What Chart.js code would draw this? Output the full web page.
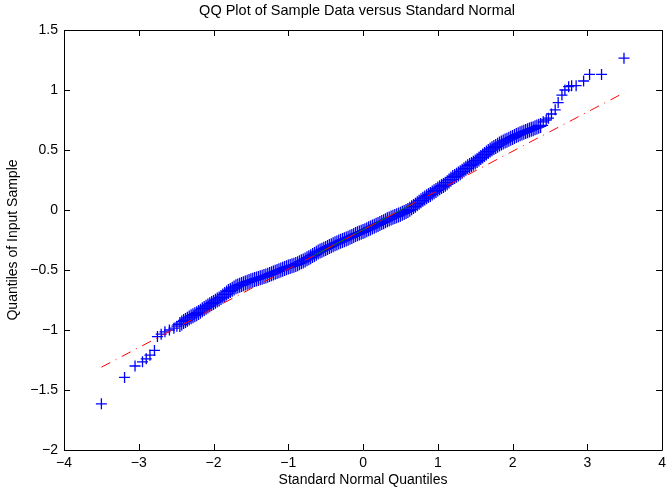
<!DOCTYPE html>
<html>
<head>
<meta charset="utf-8">
<script src="https://cdn.jsdelivr.net/npm/chart.js@4.4.1/dist/chart.umd.min.js"></script>
<style>
  html, body { margin: 0; padding: 0; background: #fff; }
  #wrap { width: 671px; height: 491px; }
</style>
</head>
<body>
<div id="wrap"><canvas id="qq"></canvas></div>
<script>
// Sample quantiles (x = standard normal quantile, y = sample quantile)
// lower tail, dense middle band, upper tail
const sampleX = [
  -3.50, -3.19, -3.05, -2.95, -2.90, -2.85, -2.79, -2.75, -2.70, -2.65, -2.59, -2.53, -2.49,
  -2.450, -2.425, -2.400, -2.375, -2.350, -2.325, -2.300, -2.275, -2.250, -2.225,
  -2.200, -2.175, -2.150, -2.125, -2.100, -2.075, -2.050, -2.025, -2.000, -1.975,
  -1.950, -1.925, -1.900, -1.875, -1.850, -1.825, -1.800, -1.775, -1.750, -1.725,
  -1.700, -1.675, -1.650, -1.625, -1.600, -1.575, -1.550, -1.525, -1.500, -1.475,
  -1.450, -1.425, -1.400, -1.375, -1.350, -1.325, -1.300, -1.275, -1.250, -1.225,
  -1.200, -1.175, -1.150, -1.125, -1.100, -1.075, -1.050, -1.025, -1.000, -0.975,
  -0.950, -0.925, -0.900, -0.875, -0.850, -0.825, -0.800, -0.775, -0.750, -0.725,
  -0.700, -0.675, -0.650, -0.625, -0.600, -0.575, -0.550, -0.525, -0.500, -0.475,
  -0.450, -0.425, -0.400, -0.375, -0.350, -0.325, -0.300, -0.275, -0.250, -0.225,
  -0.200, -0.175, -0.150, -0.125, -0.100, -0.075, -0.050, -0.025, 0.000, 0.025,
  0.050, 0.075, 0.100, 0.125, 0.150, 0.175, 0.200, 0.225, 0.250, 0.275,
  0.300, 0.325, 0.350, 0.375, 0.400, 0.425, 0.450, 0.475, 0.500, 0.525,
  0.550, 0.575, 0.600, 0.625, 0.650, 0.675, 0.700, 0.725, 0.750, 0.775,
  0.800, 0.825, 0.850, 0.875, 0.900, 0.925, 0.950, 0.975, 1.000, 1.025,
  1.050, 1.075, 1.100, 1.125, 1.150, 1.175, 1.200, 1.225, 1.250, 1.275,
  1.300, 1.325, 1.350, 1.375, 1.400, 1.425, 1.450, 1.475, 1.500, 1.525,
  1.550, 1.575, 1.600, 1.625, 1.650, 1.675, 1.700, 1.725, 1.750, 1.775,
  1.800, 1.825, 1.850, 1.875, 1.900, 1.925, 1.950, 1.975, 2.000, 2.025,
  2.050, 2.075, 2.100, 2.125, 2.150, 2.175, 2.200, 2.225, 2.250, 2.275,
  2.300, 2.325, 2.350, 2.375,
  2.41, 2.45, 2.48, 2.52, 2.57, 2.61, 2.66, 2.70, 2.75, 2.79, 2.85, 2.95, 3.03, 3.19, 3.49
];
const sampleY = [
  -1.615, -1.395, -1.300, -1.265, -1.240, -1.210, -1.170, -1.055, -1.035, -1.015, -1.000, -0.985, -0.968,
  -0.955, -0.942, -0.930, -0.921, -0.910, -0.899, -0.890, -0.881, -0.872, -0.864,
  -0.855, -0.843, -0.832, -0.821, -0.810, -0.800, -0.790, -0.780, -0.770, -0.760,
  -0.750, -0.741, -0.730, -0.717, -0.705, -0.692, -0.680, -0.670, -0.660, -0.650,
  -0.640, -0.633, -0.627, -0.621, -0.615, -0.608, -0.602, -0.596, -0.590, -0.585,
  -0.580, -0.575, -0.570, -0.565, -0.560, -0.555, -0.550, -0.543, -0.537, -0.531,
  -0.525, -0.518, -0.512, -0.506, -0.500, -0.493, -0.487, -0.481, -0.475, -0.470,
  -0.465, -0.460, -0.455, -0.447, -0.440, -0.432, -0.425, -0.416, -0.407, -0.398,
  -0.390, -0.380, -0.370, -0.360, -0.350, -0.342, -0.335, -0.327, -0.320, -0.312,
  -0.305, -0.297, -0.290, -0.282, -0.275, -0.267, -0.260, -0.254, -0.248, -0.241,
  -0.235, -0.227, -0.220, -0.212, -0.205, -0.198, -0.192, -0.186, -0.180, -0.172,
  -0.165, -0.157, -0.150, -0.142, -0.135, -0.127, -0.120, -0.112, -0.105, -0.097,
  -0.090, -0.082, -0.075, -0.067, -0.060, -0.054, -0.048, -0.041, -0.035, -0.027,
  -0.020, -0.012, -0.005, 0.006, 0.018, 0.029, 0.040, 0.052, 0.065, 0.077,
  0.090, 0.100, 0.110, 0.120, 0.130, 0.141, 0.152, 0.163, 0.175, 0.185,
  0.195, 0.205, 0.215, 0.228, 0.242, 0.256, 0.270, 0.280, 0.290, 0.300,
  0.310, 0.322, 0.335, 0.347, 0.360, 0.370, 0.380, 0.390, 0.400, 0.412,
  0.425, 0.437, 0.450, 0.462, 0.475, 0.487, 0.500, 0.510, 0.520, 0.530,
  0.540, 0.549, 0.558, 0.566, 0.575, 0.582, 0.590, 0.597, 0.605, 0.612,
  0.620, 0.627, 0.635, 0.641, 0.648, 0.654, 0.660, 0.666, 0.672, 0.678,
  0.685, 0.691, 0.698, 0.705,
  0.735, 0.750, 0.765, 0.800, 0.835, 0.895, 0.958, 1.000, 1.028, 1.036, 1.036, 1.075, 1.130, 1.130, 1.265
];

// Reference line (dash-dot, full range) and the quartile segment (solid)
const fitX = [-3.50, 3.50];
const fitY = [-1.310, 0.980];
const quartX = [-0.674, 0.674];
const quartY = [-0.385, 0.055];

const xTicks = [-4, -3, -2, -1, 0, 1, 2, 3, 4];
const yTicks = [-2, -1.5, -1, -0.5, 0, 0.5, 1, 1.5];

const titleText = 'QQ Plot of Sample Data versus Standard Normal';

const pts = (xs, ys) => xs.map((v, i) => ({x: v, y: ys[i]}));
const fmt = v => (v < 0 ? '\u2212' + Math.abs(v) : String(v));
const fontFamily = '"Liberation Sans", Arial, Helvetica, sans-serif';
const font = {family: fontFamily, size: 14};

// MATLAB-like box with inward tick marks on all four sides, title centred over the axes
const boxTicks = {
    id: 'boxTicks',
    afterDatasetsDraw(chart) {
        const {ctx, chartArea: a, scales: {x, y}} = chart;
        const len = 6;
        ctx.save();
        ctx.strokeStyle = '#000';
        ctx.lineWidth = 1;
        ctx.beginPath();
        ctx.rect(Math.round(a.left) + 0.5, Math.round(a.top) + 0.5,
                 Math.round(a.right - a.left), Math.round(a.bottom - a.top));
        xTicks.forEach(v => {
            const px = Math.round(x.getPixelForValue(v)) + 0.5;
            ctx.moveTo(px, a.bottom); ctx.lineTo(px, a.bottom - len);
            ctx.moveTo(px, a.top); ctx.lineTo(px, a.top + len);
        });
        yTicks.forEach(v => {
            const py = Math.round(y.getPixelForValue(v)) + 0.5;
            ctx.moveTo(a.left, py); ctx.lineTo(a.left + len, py);
            ctx.moveTo(a.right, py); ctx.lineTo(a.right - len, py);
        });
        ctx.stroke();

        ctx.fillStyle = '#000';
        ctx.font = '14.5px ' + fontFamily;
        ctx.textAlign = 'center';
        ctx.textBaseline = 'middle';
        ctx.fillText(titleText, (a.left + a.right) / 2 - 6, 11);
        ctx.restore();
    }
};

// the dense middle of the sample overlaps into a thick band; the tails are single crosses
const inBand = c => c.raw && c.raw.x > -2.47 && c.raw.x < 2.39;

new Chart(document.getElementById('qq'), {
    type: 'scatter',
    data: {
        datasets: [
            {
                type: 'line',
                data: pts(fitX, fitY),
                borderColor: '#ff0000',
                borderWidth: 1,
                borderDash: [10, 6, 1, 6],
                pointRadius: 0,
                fill: false
            },
            {
                type: 'line',
                data: pts(quartX, quartY),
                borderColor: '#007f00',
                borderWidth: 1,
                pointRadius: 0,
                fill: false
            },
            {
                data: pts(sampleX, sampleY),
                pointStyle: 'cross',
                pointRadius: c => (inBand(c) ? 7.5 : 5.5),
                pointBorderWidth: 1.3,
                borderColor: '#0000ff',
                backgroundColor: '#0000ff'
            }
        ]
    },
    options: {
        responsive: true,
        maintainAspectRatio: false,
        animation: false,
        layout: {padding: {left: 0, right: 6, top: 30, bottom: 0}},
        plugins: {
            legend: {display: false},
            tooltip: {enabled: false},
            title: {display: false}
        },
        scales: {
            x: {
                type: 'linear',
                min: -4, max: 4,
                afterBuildTicks: s => { s.ticks = xTicks.map(v => ({value: v})); },
                afterFit: s => { s.height = 41; },
                grid: {display: false, drawTicks: false},
                border: {display: false},
                ticks: {color: '#000', font, padding: 5, maxRotation: 0, callback: v => fmt(v)},
                title: {display: true, text: 'Standard Normal Quantiles', color: '#000', font, padding: {top: 0, bottom: 2}}
            },
            y: {
                type: 'linear',
                min: -2, max: 1.5,
                afterBuildTicks: s => { s.ticks = yTicks.map(v => ({value: v})); },
                afterFit: s => { s.width = 64; },
                grid: {display: false, drawTicks: false},
                border: {display: false},
                ticks: {color: '#000', font, padding: 6, callback: v => fmt(v)},
                title: {display: true, text: 'Quantiles of Input Sample', color: '#000', font, padding: {top: 5, bottom: 0}}
            }
        }
    },
    plugins: [boxTicks]
});
</script>
</body>
</html>
